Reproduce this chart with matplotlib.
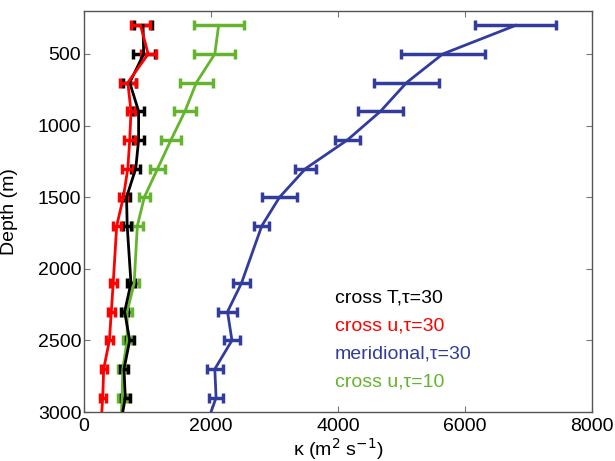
import numpy as np
import matplotlib
matplotlib.use("Agg")
import matplotlib.pyplot as plt

plt.rcParams['font.family'] = ['Liberation Sans', 'DejaVu Sans']

# depth levels (m); the last level carries the line to the bottom without an error bar
depth = [300, 500, 700, 900, 1100, 1300, 1500, 1700, 2100, 2300, 2500, 2700, 2900, 3000]

# diffusivity estimates (m^2 s^-1) and their error half-widths
cross_T30 = [930, 940, 720, 860, 860, 815, 670, 680, 740, 640, 720, 630, 650, 610]
cross_T30_err = [140, 175, 100, 90, 85, 70, 60, 60, 60, 60, 60, 60, 70, np.nan]

cross_u30 = [890, 1010, 690, 740, 720, 690, 620, 515, 460, 430, 400, 310, 295, 280]
cross_u30_err = [150, 120, 125, 70, 85, 85, 65, 60, 55, 55, 55, 50, 50, np.nan]

merid30 = [6800, 5650, 5080, 4670, 4150, 3490, 3080, 2800, 2480, 2260, 2330, 2060, 2080, 2000]
merid30_err = [640, 665, 515, 360, 200, 160, 270, 120, 130, 150, 125, 125, 110, np.nan]

cross_u10 = [2120, 2060, 1770, 1590, 1370, 1160, 950, 840, 790, 680, 680, 610, 600, 590]
cross_u10_err = [395, 325, 255, 175, 150, 120, 90, 85, 80, 70, 70, 70, 70, np.nan]

labels = ['cross T,τ=30', 'cross u,τ=30', 'meridional,τ=30', 'cross u,τ=10']
colors = ['#000000', '#ff0000', '#323c9c', '#64b42d']

x_ticks = [0, 2000, 4000, 6000, 8000]
y_ticks = [500, 1000, 1500, 2000, 2500, 3000]

fig = plt.figure(figsize=(6.15, 4.61), dpi=100)
ax = fig.add_axes([84 / 615, 1 - 412 / 461, (592 - 84) / 615, (412 - 11) / 461])

series = [(cross_u10, cross_u10_err), (merid30, merid30_err),
          (cross_T30, cross_T30_err), (cross_u30, cross_u30_err)]
series_colors = [colors[3], colors[2], colors[0], colors[1]]
for (vals, errs), c in zip(series, series_colors):
    ax.errorbar(vals, depth, xerr=errs, color=c, lw=2, elinewidth=2.5,
                capsize=3.5, capthick=2.5, zorder=3)

ax.set_xlim(0, 8000)
ax.set_ylim(3000, 200)
ax.set_xticks(x_ticks)
ax.set_yticks(y_ticks)
ax.tick_params(direction='in', top=True, right=True, labelsize=14, length=4,
               color='#777777')
ax.tick_params(axis='x', pad=4)
ax.tick_params(axis='y', pad=2)
for s in ax.spines.values():
    s.set_color('#555555')
    s.set_linewidth(1)

ax.set_xlabel('κ (m$^2$ s$^{-1}$)', fontsize=14, labelpad=1)
ax.set_ylabel('Depth (m)', fontsize=14)
ax.yaxis.set_label_coords(-0.13, 0.5)

# annotation key written in each series' colour
for i, (lab, c) in enumerate(zip(labels, colors)):
    ax.text(3950, 2205 + i * 195, lab, color=c, fontsize=14, va='center', ha='left')

fig.savefig('out.png', dpi=100)
